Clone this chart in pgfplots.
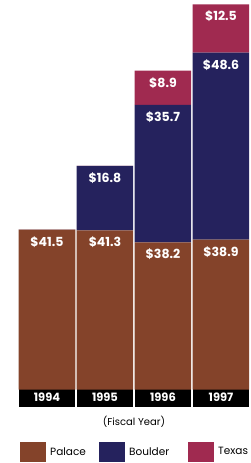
\documentclass[border=0pt]{standalone}
\usepackage{pgfplots}
\pgfplotsset{compat=1.18}
\pgfplotsset{compat/bar nodes=1.8}
\usepackage{fontspec}
\setmainfont{Poppins}
\definecolor{palace}{HTML}{84432A}
\definecolor{boulder}{HTML}{25225D}
\definecolor{texas}{HTML}{A02A50}
\begin{document}
\begin{tikzpicture}[x=1pt,y=1pt]
\path[use as bounding box] (0,0) rectangle (251,463);
\begin{axis}[
  at={(18pt,73.5pt)}, anchor=south west,
  scale only axis, width=232pt, height=385pt,
  ymin=0, ymax=100, xmin=-0.5, xmax=3.5,
  ybar stacked, bar width=56.5pt,
  axis line style={draw=none},
  major tick length=0pt,
  ytick=\empty,
  xtick={0,1,2,3},
  xticklabels={1994,1995,1996,1997},
  xticklabel style={fill=black, text=white, font=\bfseries\fontsize{11.5}{11.5}\selectfont,
    minimum width=56.5pt, minimum height=18pt, inner sep=0pt, anchor=north, yshift=1pt},
  xlabel={(Fiscal Year)},
  xlabel style={at={(axis description cs:0.5,0)}, anchor=center, yshift=-32.5pt,
    font=\fontsize{10}{10}\selectfont},
  nodes near coords,
  point meta=explicit symbolic,
  every node near coord/.append style={anchor=north, yshift=-3pt, text=white,
    font=\bfseries\fontsize{12.5}{12.5}\selectfont},
  legend columns=3,
  legend style={draw=none, fill=none, inner sep=0pt,
    at={(axis description cs:0,0)}, anchor=west, yshift=-62.5pt, xshift=2pt,
    font=\fontsize{10.5}{10.5}\selectfont,
    /tikz/every even column/.append style={column sep=0pt}},
  legend image code/.code={\fill[#1] (0pt,-10pt) rectangle (26pt,10pt);},
]
\addplot[fill=palace, draw=none] coordinates {(0,41.5) [\$41.5] (1,41.3) [\$41.3] (2,38.2) [\$38.2] (3,38.9) [\$38.9]};
\addplot[fill=boulder, draw=none] coordinates {(0,0) [] (1,16.8) [\$16.8] (2,35.7) [\$35.7] (3,48.6) [\$48.6]};
\addplot[fill=texas, draw=none] coordinates {(0,0) [] (1,0) [] (2,8.9) [\$8.9] (3,12.5) [\$12.5]};
\legend{{\hspace{2pt}\makebox[47pt][l]{Palace}},{\hspace{2pt}\makebox[57pt][l]{Boulder}},{\hspace{2pt}Texas}}
\end{axis}
\end{tikzpicture}
\end{document}
